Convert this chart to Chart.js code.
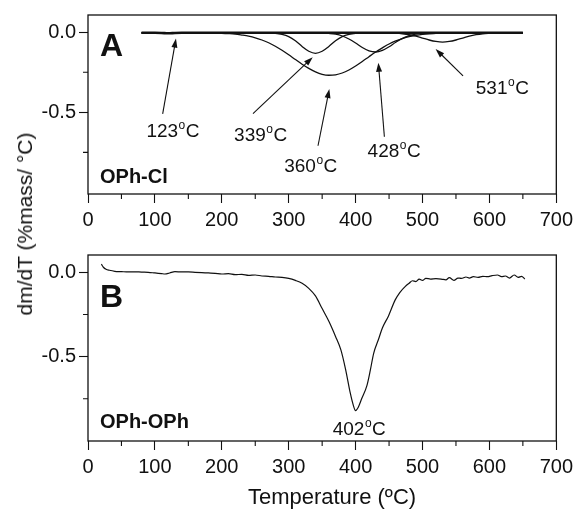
<!DOCTYPE html>
<html>
<head>
<meta charset="utf-8">
<script src="https://cdn.jsdelivr.net/npm/chart.js"></script>
<style>
  body { margin: 0; background: #fff; }
  #wrap { position: relative; width: 578px; height: 515px; font-family: "Liberation Sans", Arial, sans-serif; color: #111; }
  #wrap canvas { position: absolute; left: 0; }
  #ytitle { position: absolute; left: 25px; top: 224px; font-size: 21px; white-space: nowrap;
            transform: translate(-50%, -50%) rotate(-90deg); }
  #xtitle { position: absolute; left: 332px; top: 486px; font-size: 22px; line-height: 22px; white-space: nowrap;
            transform: translateX(-50%); }
</style>
</head>
<body>
<div id="wrap">
  <canvas id="chartA" width="578" height="240" style="top:0"></canvas>
  <canvas id="chartB" width="578" height="275" style="top:240px"></canvas>
  <div id="ytitle">dm/dT (%mass/ °C)</div>
  <div id="xtitle">Temperature (ºC)</div>
</div>
<script>
// ---- data ----
const xMajor = [0, 100, 200, 300, 400, 500, 600, 700];
const xMinor = [50, 150, 250, 350, 450, 550, 650];
const yMajor = [0, -0.5];
const yMinor = [-0.25, -0.75];

// panel A: deconvoluted peaks of OPh-Cl
const peak123T = [80, 100, 110, 120, 130, 140, 150, 650];
const peak123V = [-0.004, -0.004, -0.005, -0.007, -0.005, -0.004, -0.004, -0.004];

const peak339T = [80, 250, 260, 270, 280, 290, 300, 310, 320, 330, 340, 350, 360, 370, 380, 390, 400, 410, 420, 650];
const peak339V = [-0.004, -0.004, -0.004, -0.005, -0.007, -0.014, -0.028, -0.054, -0.089, -0.119, -0.132,
                  -0.119, -0.089, -0.054, -0.028, -0.014, -0.007, -0.005, -0.004, -0.004];

const peak360T = [80, 190, 200, 210, 220, 230, 240, 250, 260, 270, 280, 290, 300, 310, 320, 330, 340, 350, 360,
                  370, 380, 390, 400, 410, 420, 430, 440, 450, 460, 470, 480, 490, 500, 510, 520, 530, 540, 550, 650];
const peak360V = [-0.004, -0.006, -0.007, -0.009, -0.012, -0.018, -0.025, -0.035, -0.049, -0.066, -0.088, -0.113,
                  -0.141, -0.171, -0.200, -0.226, -0.248, -0.263, -0.269, -0.266, -0.255, -0.236, -0.211, -0.183,
                  -0.153, -0.124, -0.098, -0.074, -0.055, -0.040, -0.028, -0.020, -0.014, -0.010, -0.008, -0.006,
                  -0.005, -0.004, -0.004];

const peak428T = [80, 340, 350, 360, 370, 380, 390, 400, 410, 420, 430, 440, 450, 460, 470, 480, 490, 500, 510, 520, 650];
const peak428V = [-0.004, -0.004, -0.005, -0.008, -0.013, -0.024, -0.043, -0.068, -0.096, -0.117, -0.124,
                  -0.114, -0.091, -0.063, -0.039, -0.022, -0.012, -0.007, -0.005, -0.004, -0.004];

const peak531T = [80, 450, 460, 470, 480, 490, 500, 510, 520, 530, 540, 550, 560, 570, 580, 590, 600, 610, 620, 650];
const peak531V = [-0.004, -0.004, -0.006, -0.010, -0.016, -0.025, -0.037, -0.049, -0.058, -0.062, -0.058,
                  -0.049, -0.037, -0.025, -0.016, -0.010, -0.007, -0.005, -0.004, -0.004];

// panel B: measured DTG of OPh-OPh
const tempB = [20, 23, 27, 32, 40, 50, 60, 70, 80, 90, 100, 110, 115, 122, 130, 140, 150, 160, 170, 180, 190,
               200, 210, 220, 230, 240, 250, 260, 270, 280, 290, 300, 310, 320, 330, 340, 350, 360, 370, 378,
               385, 392, 396, 400, 404, 409, 417, 422, 427, 434, 440, 449, 459, 466, 474, 480, 485, 490, 495,
               500, 505, 512, 520, 528, 535, 540, 547, 553, 558, 565, 570, 576, 583, 590, 597, 604, 612, 618,
               624, 630, 637, 643, 648, 653];
const dmdtB = [0.048, 0.030, 0.018, 0.012, 0.006, 0.004, 0.002, 0.003, 0.001, 0.000, -0.004, -0.008, -0.010,
               -0.004, 0.004, 0.002, 0.002, 0.000, -0.002, -0.004, -0.006, -0.010, -0.008, -0.014, -0.012,
               -0.018, -0.016, -0.022, -0.024, -0.028, -0.030, -0.036, -0.048, -0.065, -0.095, -0.140, -0.215,
               -0.290, -0.380, -0.460, -0.575, -0.715, -0.780, -0.820, -0.800, -0.750, -0.670, -0.580, -0.480,
               -0.400, -0.330, -0.260, -0.165, -0.120, -0.085, -0.065, -0.050, -0.055, -0.040, -0.048, -0.036,
               -0.040, -0.038, -0.040, -0.045, -0.032, -0.048, -0.034, -0.036, -0.028, -0.034, -0.026, -0.030,
               -0.024, -0.026, -0.020, -0.016, -0.026, -0.022, -0.034, -0.016, -0.030, -0.024, -0.040];

// peak labels with arrows (data coordinates)
const notesA = [
  { text: '123', label: [127, -0.609], tail: [111.6, -0.510], head: [131.5, -0.040] },
  { text: '339', label: [258, -0.634], tail: [246.6, -0.508], head: [335.9, -0.156] },
  { text: '360', label: [333, -0.831], tail: [343.8, -0.709], head: [360.7, -0.355] },
  { text: '428', label: [457.6, -0.734], tail: [443, -0.653], head: [434, -0.191] },
  { text: '531', label: [619.3, -0.344], tail: [560.6, -0.273], head: [519.6, -0.105] }
];
const notesB = [
  { text: '402', label: [405.5, -0.92] }
];

const FONT = '"Liberation Sans", Arial, sans-serif';
const INK = '#111';

function pts(xs, ys) { return xs.map((x, i) => ({ x: x, y: ys[i] })); }

function lineSet(xs, ys, width) {
  return {
    data: pts(xs, ys), borderColor: INK, borderWidth: width, pointRadius: 0,
    cubicInterpolationMode: 'monotone', fill: false
  };
}

function drawTemp(ctx, text, cx, cy) {
  ctx.save();
  ctx.fillStyle = INK;
  ctx.textBaseline = 'alphabetic';
  ctx.textAlign = 'left';
  ctx.font = '19px ' + FONT;
  const w1 = ctx.measureText(text).width;
  const w3 = ctx.measureText('C').width;
  ctx.font = '12px ' + FONT;
  const w2 = ctx.measureText('o').width;
  const x0 = cx - (w1 + w2 + w3 + 1) / 2;
  ctx.font = '19px ' + FONT;
  ctx.fillText(text, x0, cy + 7);
  ctx.fillText('C', x0 + w1 + w2 + 1, cy + 7);
  ctx.font = '12px ' + FONT;
  ctx.fillText('o', x0 + w1 + 0.5, cy - 1);
  ctx.restore();
}

function drawArrow(ctx, x1, y1, x2, y2) {
  const ang = Math.atan2(y2 - y1, x2 - x1);
  const len = 9, half = 3;
  ctx.save();
  ctx.strokeStyle = INK;
  ctx.fillStyle = INK;
  ctx.lineWidth = 1.1;
  ctx.beginPath();
  ctx.moveTo(x1, y1);
  ctx.lineTo(x2 - Math.cos(ang) * len * 0.8, y2 - Math.sin(ang) * len * 0.8);
  ctx.stroke();
  ctx.beginPath();
  ctx.moveTo(x2, y2);
  ctx.lineTo(x2 - Math.cos(ang) * len - Math.sin(ang) * half, y2 - Math.sin(ang) * len + Math.cos(ang) * half);
  ctx.lineTo(x2 - Math.cos(ang) * len + Math.sin(ang) * half, y2 - Math.sin(ang) * len - Math.cos(ang) * half);
  ctx.closePath();
  ctx.fill();
  ctx.restore();
}

function panelPlugin(letter, letterDy, sample, sampleDy, notes) {
  return {
    id: 'panel' + letter,
    afterDraw(chart) {
      const ctx = chart.ctx, a = chart.chartArea;
      const xs = chart.scales.x, ys = chart.scales.y;
      ctx.save();
      // box
      ctx.strokeStyle = INK;
      ctx.lineWidth = 1.3;
      ctx.strokeRect(a.left, a.top, a.right - a.left, a.bottom - a.top);
      // minor ticks
      ctx.lineWidth = 1.1;
      ctx.beginPath();
      xMinor.forEach(v => {
        const px = xs.getPixelForValue(v);
        ctx.moveTo(px, a.bottom); ctx.lineTo(px, a.bottom + 5);
      });
      yMinor.forEach(v => {
        const py = ys.getPixelForValue(v);
        ctx.moveTo(a.left, py); ctx.lineTo(a.left - 5, py);
      });
      ctx.stroke();
      // panel letter and sample name
      ctx.fillStyle = INK;
      ctx.textAlign = 'left';
      ctx.textBaseline = 'alphabetic';
      ctx.font = 'bold 32px ' + FONT;
      ctx.fillText(letter, a.left + 12, a.top + letterDy);
      ctx.font = 'bold 20px ' + FONT;
      ctx.fillText(sample, a.left + 12, a.bottom - sampleDy);
      ctx.restore();
      notes.forEach(n => {
        if (n.tail) {
          drawArrow(ctx, xs.getPixelForValue(n.tail[0]), ys.getPixelForValue(n.tail[1]),
                    xs.getPixelForValue(n.head[0]), ys.getPixelForValue(n.head[1]));
        }
        drawTemp(ctx, n.text, xs.getPixelForValue(n.label[0]), ys.getPixelForValue(n.label[1]));
      });
    }
  };
}

function makeOptions(yMin, yMax, padTop, xHeight) {
  return {
    responsive: false,
    animation: false,
    events: [],
    layout: { padding: { top: padTop, right: 19, left: 0, bottom: 0 } },
    plugins: { legend: { display: false }, tooltip: { enabled: false } },
    scales: {
      x: {
        type: 'linear', min: 0, max: 700,
        afterBuildTicks: s => { s.ticks = xMajor.map(v => ({ value: v })); },
        afterFit: s => { s.height = xHeight; },
        ticks: { color: INK, font: { size: 20, family: FONT }, padding: 5, maxRotation: 0, autoSkip: false,
                 callback: v => String(v) },
        grid: { drawOnChartArea: false, tickLength: 9, tickColor: INK, tickWidth: 1.1 },
        border: { display: false }
      },
      y: {
        min: yMin, max: yMax,
        afterBuildTicks: s => { s.ticks = yMajor.map(v => ({ value: v })); },
        afterFit: s => { s.width = 88; },
        ticks: { color: INK, font: { size: 20, family: FONT }, padding: 3, callback: v => v.toFixed(1) },
        grid: { drawOnChartArea: false, tickLength: 9, tickColor: INK, tickWidth: 1.1 },
        border: { display: false }
      }
    }
  };
}

new Chart(document.getElementById('chartA'), {
  type: 'line',
  data: {
    datasets: [
      lineSet(peak123T, peak123V, 2.6),
      lineSet(peak339T, peak339V, 1.3),
      lineSet(peak360T, peak360V, 1.3),
      lineSet(peak428T, peak428V, 1.3),
      lineSet(peak531T, peak531V, 1.3)
    ]
  },
  options: makeOptions(-1.01, 0.107, 12, 46),
  plugins: [panelPlugin('A', 41, 'OPh-Cl', 11.5, notesA)]
});

new Chart(document.getElementById('chartB'), {
  type: 'line',
  data: { datasets: [lineSet(tempB, dmdtB, 1.2)] },
  options: makeOptions(-1.0, 0.1025, 15, 74),
  plugins: [panelPlugin('B', 52, 'OPh-OPh', 13, notesB)]
});
</script>
</body>
</html>
